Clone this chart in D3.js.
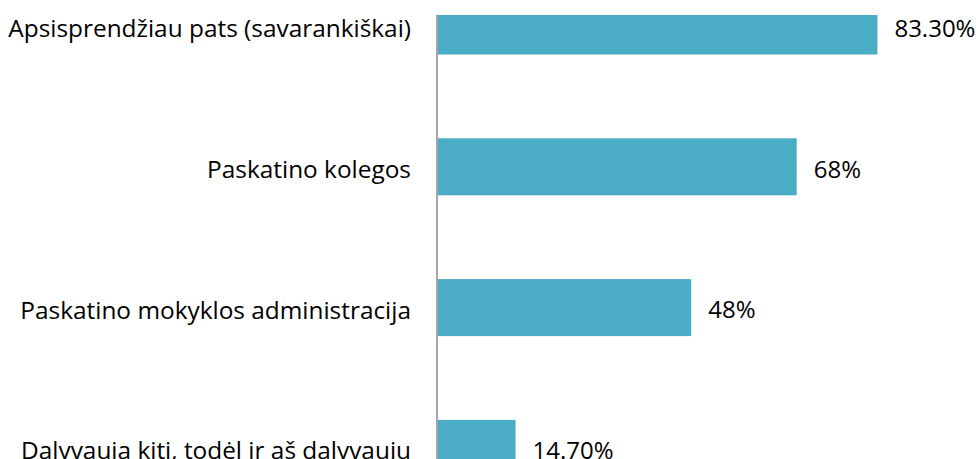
<!DOCTYPE html>
<html>
<head>
<meta charset="utf-8">
<script src="https://cdn.jsdelivr.net/npm/d3@7"></script>
<style>
  html, body { margin: 0; padding: 0; background: #fff; }
  svg { display: block; }
  text { font-family: "Open Sans", Lato, sans-serif; fill: #000; }
</style>
</head>
<body>
<svg id="chart" width="980" height="459"></svg>
<script>
// Motivation for taking part, share of respondents (%)
const categories = [
  "Apsisprendžiau pats (savarankiškai)",
  "Paskatino kolegos",
  "Paskatino mokyklos administracija",
  "Dalyvauja kiti, todėl ir aš dalyvauju"
];
const values = [83.3, 68, 48, 14.7];
const valueLabels = ["83.30%", "68%", "48%", "14.70%"];

const width = 980, height = 459;
const plotLeft = 438, plotTop = 15;
const labelFontSize = 24.4;
const valueFontSize = 24;

const svg = d3.select("#chart");

const x = d3.scaleLinear().domain([0, 100]).range([plotLeft, plotLeft + 527.5]);
const y = d3.scaleBand()
  .domain(categories)
  .range([-2.5, 476.9])
  .paddingInner(0.595)
  .paddingOuter(0);

// plot area is clipped at the top edge
svg.append("defs").append("clipPath").attr("id", "plot-clip")
  .append("rect").attr("x", 0).attr("y", plotTop).attr("width", width).attr("height", height - plotTop);

const plot = svg.append("g").attr("clip-path", "url(#plot-clip)");

plot.selectAll("rect.bar")
  .data(values)
  .join("rect")
  .attr("class", "bar")
  .attr("x", x(0))
  .attr("y", (d, i) => y(categories[i]))
  .attr("width", d => x(d) - x(0))
  .attr("height", y.bandwidth())
  .attr("fill", "#4BACC6");

// category axis (line only, no ticks)
const yAxis = d3.axisLeft(y).tickSize(0).tickPadding(26).tickFormat(d => d);
const axisG = svg.append("g")
  .attr("transform", `translate(${plotLeft - 1},0)`)
  .call(yAxis);
axisG.select(".domain").remove();
axisG.append("line")
  .attr("x1", 0).attr("x2", 0)
  .attr("y1", plotTop).attr("y2", height)
  .attr("stroke", "#a6a6a6").attr("stroke-width", 2);
axisG.selectAll(".tick text")
  .attr("font-size", labelFontSize)
  .attr("font-family", "'Open Sans', Lato, sans-serif")
  .attr("fill", "#000")
  .attr("dy", "0.45em");

// value labels
svg.selectAll("text.value")
  .data(values)
  .join("text")
  .attr("class", "value")
  .attr("x", d => x(d) + 17)
  .attr("y", (d, i) => y(categories[i]) + y.bandwidth() / 2)
  .attr("dy", "0.45em")
  .attr("font-size", valueFontSize)
  .text((d, i) => valueLabels[i]);
</script>
</body>
</html>
